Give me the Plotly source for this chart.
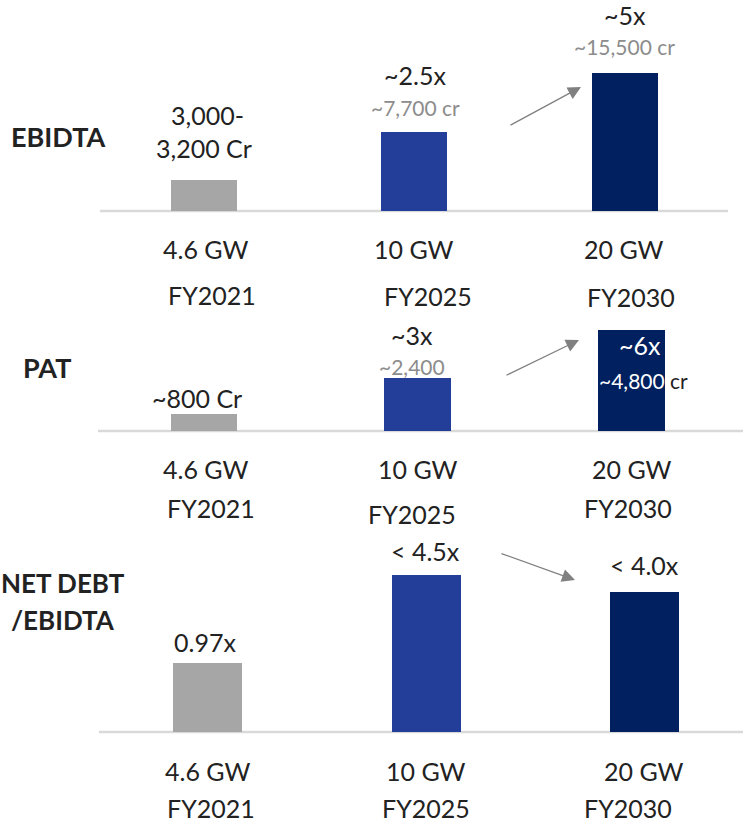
import plotly.graph_objects as go

# data
categories = ["FY2021", "FY2025", "FY2030"]
capacity_labels = ["4.6 GW", "10 GW", "20 GW"]
bar_colors = ["#a6a6a6", "#233e99", "#00205f"]

ebidta_cr = [3100, 7900, 13800]          # bar heights (crore, as drawn)
pat_cr = [800, 2500, 4750]               # bar heights (crore, as drawn)
netdebt_ratio = [0.97, 2.21, 1.97]       # bar heights (as drawn)

ebidta_text = ["3,000-<br>3,200 Cr", "~2.5x", "~5x"]
ebidta_sub = ["", "~7,700 cr", "~15,500 cr"]
pat_text = ["~800 Cr", "~3x", "~6x"]
pat_sub = ["", "~2,400", "~4,800"]
netdebt_text = ["0.97x", "< 4.5x", "< 4.0x"]

W, H = 743, 822
DARK = "#222222"
GREY_TXT = "#8c8c8c"
FONT = "Lato"


def px(x):
    return x / W


def py(y):
    return 1 - y / H


fig = go.Figure()

panels = [
    # values, xaxis, yaxis, x range, y domain (px), y range, bar width
    (ebidta_cr, "x", "y", [-0.494, 2.561], (0, 211), [0, 21100], 0.314),
    (pat_cr, "x2", "y2", [-0.486, 2.519], (300, 431), [0, 6157], 0.313),
    (netdebt_ratio, "x3", "y3", [-0.494, 2.449], (530, 732), [0, 2.8397], 0.316),
]

layout_axes = {}
for i, (vals, xa, ya, xr, (top, bot), yr, bw) in enumerate(panels):
    fig.add_trace(go.Bar(
        x=[0, 1, 2], y=vals, width=bw,
        marker=dict(color=bar_colors, line=dict(width=0)),
        xaxis=xa, yaxis=ya, hoverinfo="skip", showlegend=False,
    ))
    sfx = "" if i == 0 else str(i + 1)
    layout_axes["xaxis" + sfx] = dict(domain=[px(100), 1], range=xr, visible=False,
                                      anchor=ya)
    layout_axes["yaxis" + sfx] = dict(domain=[py(bot), py(top)], range=yr, visible=False,
                                      anchor=xa)

fig.update_layout(**layout_axes)

ann = []


def txt(s, x, y, size=25, color=DARK, bold=False, xanchor="center"):
    ann.append(dict(
        text=("<b>%s</b>" % s) if bold else s,
        x=px(x), y=py(y), xref="paper", yref="paper",
        xanchor=xanchor, yanchor="middle", showarrow=False,
        font=dict(family=FONT, size=size, color=color),
    ))


def arrow(x0, y0, x1, y1):
    ann.append(dict(
        text="", x=px(x1), y=py(y1), xref="paper", yref="paper",
        ax=x0 - x1, ay=y0 - y1, showarrow=True,
        arrowhead=2, arrowsize=2, arrowwidth=1.3, arrowcolor="#808080",
    ))


# --- EBIDTA panel
txt("EBIDTA", 9, 136, size=27, bold=True, xanchor="left")
txt("3,000-", 208, 115)
txt("3,200 Cr", 204, 148)
txt(ebidta_text[1], 415, 75)
txt(ebidta_sub[1], 415, 107, size=21, color=GREY_TXT)
txt(ebidta_text[2], 625, 15)
txt(ebidta_sub[2], 624, 47, size=21, color=GREY_TXT)
arrow(509, 126, 581, 87)
for cx, lab in zip([205, 414, 624], capacity_labels):
    txt(lab, cx, 249)
for cx, cy, lab in zip([212, 428, 631], [295, 296, 297], categories):
    txt(lab, cx, cy)

# --- PAT panel
txt("PAT", 21, 367, size=27, bold=True, xanchor="left")
txt(pat_text[0], 197, 398)
txt(pat_text[1], 412, 335)
txt(pat_sub[1], 412, 366, size=21, color=GREY_TXT)
txt(pat_text[2], 663, 345, color="white", xanchor="right")
txt("<span style='color:white'>%s</span> cr" % pat_sub[2], 643, 380, size=21)
arrow(505, 376, 579, 340)
for cx, lab in zip([205, 418, 632], capacity_labels):
    txt(lab, cx, 469)
for cx, cy, lab in zip([211, 412, 628], [508, 514, 508], categories):
    txt(lab, cx, cy)

# --- NET DEBT / EBIDTA panel
txt("NET DEBT", 63, 583, size=26, bold=True)
txt("/EBIDTA", 63, 620, size=26, bold=True)
txt(netdebt_text[0], 205, 642)
txt(netdebt_text[1], 426, 551)
txt(netdebt_text[2], 644, 565)
arrow(500, 553, 575, 580)
for cx, lab in zip([207, 426, 644], capacity_labels):
    txt(lab, cx, 771)
for cx, lab in zip([211, 426, 628], categories):
    txt(lab, cx, 808)

shapes = []
for x0, x1, y in [(100, 728, 211), (98, 743, 431), (99, 743, 732)]:
    shapes.append(dict(type="line", xref="paper", yref="paper",
                       x0=px(x0), x1=px(x1), y0=py(y), y1=py(y),
                       line=dict(color="#d9d9d9", width=2.5), layer="below"))

fig.update_layout(
    width=W, height=H,
    margin=dict(l=0, r=0, t=0, b=0),
    paper_bgcolor="white", plot_bgcolor="white",
    annotations=ann, shapes=shapes,
    bargap=0, showlegend=False,
)

fig.write_html("out.html", config={"displayModeBar": False},
               post_script="document.body.style.margin='0';")
